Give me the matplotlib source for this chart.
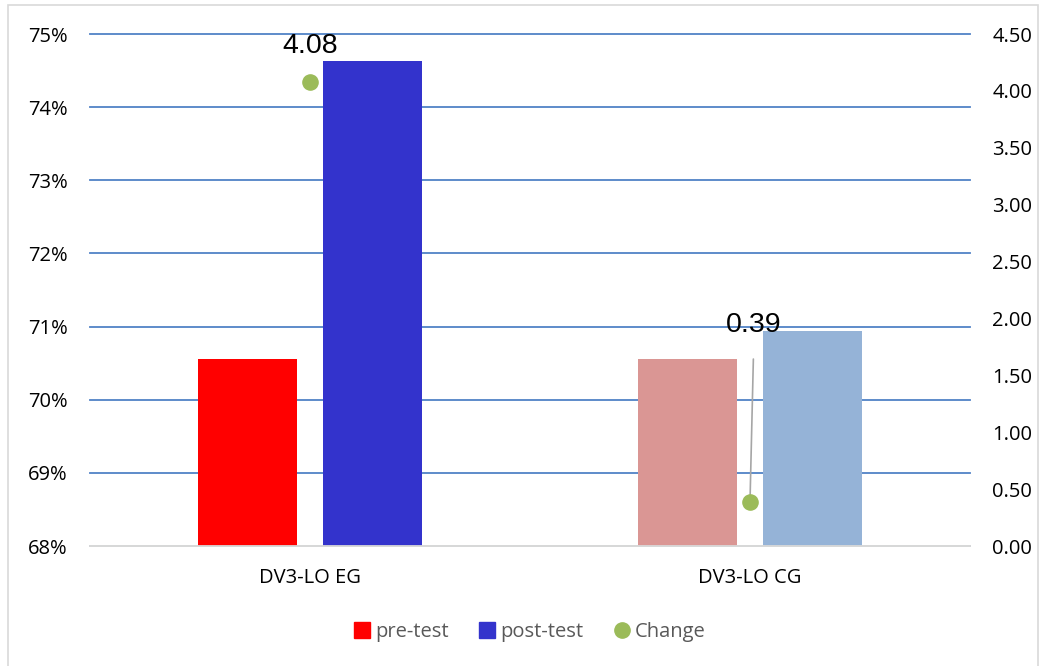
import matplotlib.pyplot as plt
import matplotlib.patches as mpatches
import numpy as np

categories = ["DV3-LO EG", "DV3-LO CG"]
pre_test = [70.55, 70.55]      # %
post_test = [74.63, 70.94]     # %
change = [4.08, 0.39]

pre_colors = ["#FF0000", "#DA9694"]
post_colors = ["#3333CC", "#95B3D7"]
green = "#9BBB59"

plt.rcParams["font.family"] = ["Open Sans", "DejaVu Sans"]

fig = plt.figure(figsize=(10.46, 6.66), dpi=100)
fig.patches.append(mpatches.Rectangle((8 / 1046, -0.01), 1030 / 1046, 1 - 5 / 666 + 0.01,
                                      transform=fig.transFigure, fill=False,
                                      edgecolor="#D9D9D9", linewidth=1.2))
ax = fig.add_axes([90 / 1046, 120 / 666, 880 / 1046, 512 / 666])
ax2 = ax.twinx()

x = np.arange(len(categories))
w = 0.225
off = 0.142
ax.bar(x - off, pre_test, w, color=pre_colors, zorder=3)
ax.bar(x + off, post_test, w, color=post_colors, zorder=3)

ax.set_xlim(-0.5, 1.5)
ax.set_ylim(68, 75)
ax.set_yticks(np.arange(68, 76, 1))
ax.set_yticklabels([f"{v}%" for v in range(68, 76)])
ax.grid(axis="y", color="#5082C6", linewidth=1.3, zorder=0)
ax.set_axisbelow(True)
ax.set_xticks(x)
ax.set_xticklabels(categories)
for gl in ax.yaxis.get_gridlines():
    gl.set_clip_on(False)

ax2.set_ylim(0, 4.5)
ax2.set_yticks(np.arange(0, 4.51, 0.5))
ax2.set_yticklabels([f"{v:.2f}" for v in np.arange(0, 4.51, 0.5)])
ax2.scatter(x, change, s=120, color=green, zorder=5)

ax2.annotate(f"{change[0]:.2f}", xy=(x[0], change[0]), xytext=(0, 26),
             textcoords="offset points", ha="center", va="center",
             fontsize=20.5, family=["Liberation Sans"])
ax2.annotate(f"{change[1]:.2f}", xy=(x[1], change[1]), xytext=(3, 127),
             textcoords="offset points", ha="center", va="center",
             fontsize=20.5, family=["Liberation Sans"],
             arrowprops=dict(arrowstyle="-", color="#A6A6A6", lw=1.2,
                             shrinkA=13, shrinkB=0))

for a in (ax, ax2):
    for s in ("top", "left", "right"):
        a.spines[s].set_visible(False)
    a.spines["bottom"].set_color("#D9D9D9")
    a.spines["bottom"].set_linewidth(1.3)
    a.tick_params(length=0, labelsize=14.5, colors="#000000")
ax.tick_params(axis="y", pad=16)
ax2.tick_params(axis="y", pad=16)
ax.tick_params(axis="x", pad=16)

handles = [
    mpatches.Patch(color="#FF0000", label="pre-test"),
    mpatches.Patch(color="#3333CC", label="post-test"),
    plt.Line2D([], [], marker="o", color=green, linestyle="none", markersize=11, label="Change"),
]
leg = fig.legend(handles=handles, loc="center", bbox_to_anchor=(530 / 1046, 1 - 632 / 666),
                 ncol=3, frameon=False, fontsize=14.5, handlelength=0.8, handleheight=0.8,
                 handletextpad=0.25, columnspacing=1.5)
for t in leg.get_texts():
    t.set_color("#595959")

fig.savefig("out.png", dpi=100)
